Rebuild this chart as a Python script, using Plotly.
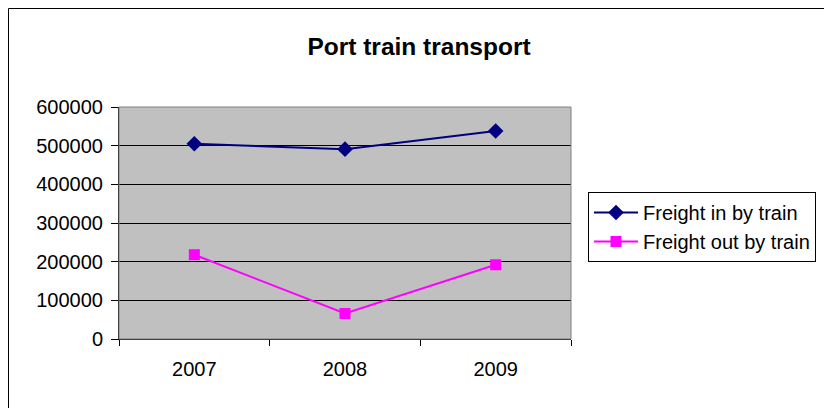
import plotly.graph_objects as go

# Datos
years = ["2007", "2008", "2009"]
freight_in = [505000, 491000, 538000]
freight_out = [218000, 66000, 192000]

fig = go.Figure()

fig.add_trace(go.Scatter(
    x=years, y=freight_in, name="Freight in by train",
    mode="lines+markers",
    line=dict(color="#000080", width=2),
    marker=dict(symbol="diamond", size=12, color="#000080"),
))

fig.add_trace(go.Scatter(
    x=years, y=freight_out, name="Freight out by train",
    mode="lines+markers",
    line=dict(color="#FF00FF", width=2),
    marker=dict(symbol="square", size=11, color="#FF00FF"),
))

# Tamaño de la figura (la página añade 8px de margen)
W, H = 824, 400
L, R, T, B = 111, 261, 99, 69
pw, ph = W - L - R, H - T - B

# Marco exterior del gráfico (estilo Excel)
fig.add_shape(
    type="rect", xref="paper", yref="paper",
    x0=-(L - 0.5) / pw, x1=(821 - L) / pw,
    y0=-(B + 20) / ph, y1=(ph + T - 0.5) / ph,
    line=dict(color="black", width=1), layer="below",
)

fig.update_layout(
    width=W, height=H,
    paper_bgcolor="white",
    plot_bgcolor="#C0C0C0",
    font=dict(family="Liberation Sans, Arial", size=20, color="black"),
    title=dict(text="<b>Port train transport</b>", x=411 / W, xanchor="center",
               y=1 - 38 / H, yanchor="middle", font=dict(size=24.5)),
    margin=dict(l=L, r=R, t=T, b=B),
    showlegend=True,
    legend=dict(
        x=(580 - L) / pw, xanchor="left",
        y=(T + ph - 184) / ph, yanchor="top",
        bordercolor="black", borderwidth=1, bgcolor="white",
        font=dict(size=20), tracegroupgap=0, itemwidth=44,
    ),
    xaxis=dict(
        type="category", range=[-0.5, 2.5],
        tickson="boundaries", ticks="outside", ticklen=6, tickcolor="black",
        ticklabelstandoff=12,
        showline=True, linecolor="black", linewidth=1,
        showgrid=False, zeroline=False,
    ),
    yaxis=dict(
        range=[0, 600000], dtick=100000, tickformat="d",
        ticks="outside", ticklen=7, tickcolor="black",
        ticklabelstandoff=4,
        showline=True, linecolor="black", linewidth=1,
        showgrid=True, gridcolor="black", gridwidth=1, zeroline=False,
    ),
)

# Borde gris del área de trazado
fig.add_shape(type="rect", xref="paper", yref="paper", x0=0, x1=1, y0=0, y1=1,
              line=dict(color="#808080", width=1))

fig.write_html("out.html")
